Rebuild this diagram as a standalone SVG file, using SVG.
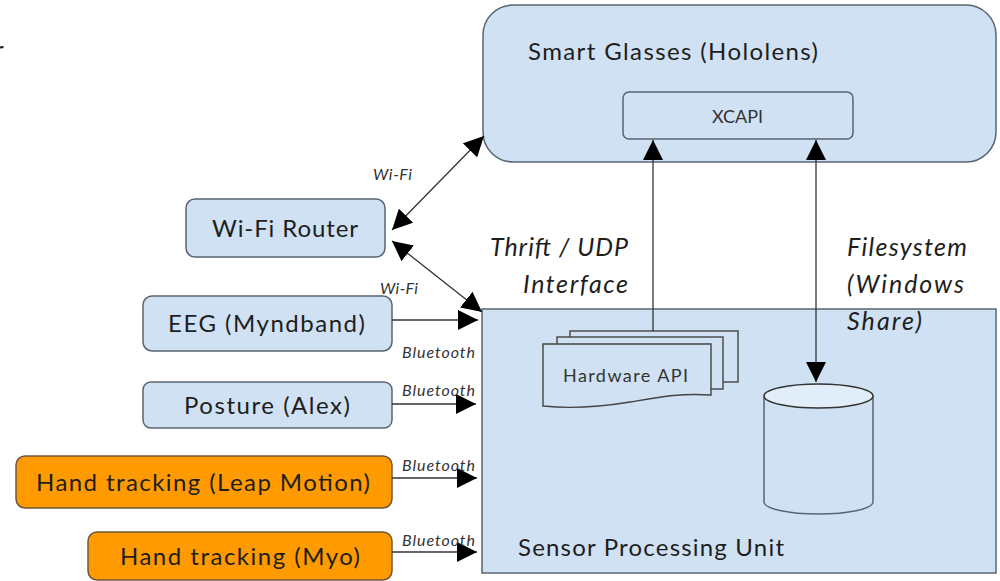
<svg xmlns="http://www.w3.org/2000/svg" width="1000" height="581" viewBox="0 0 1000 581">
<defs>
<style>
.blue{fill:#cfe1f2;stroke:#5a6470;stroke-width:1.5}
.orange{fill:#ff9a00;stroke:#6e5a3a;stroke-width:1.5}
.lbl{font-family:Lato,"Open Sans",sans-serif;font-size:24px;fill:#1e1e1e}
.sm{font-family:Lato,"Open Sans",sans-serif;font-size:18px;fill:#333}
.it{font-family:Lato,"Open Sans",sans-serif;font-style:italic;font-size:25px;fill:#1e1e1e}
.tiny{font-family:Lato,"Open Sans",sans-serif;font-style:italic;font-size:16px;fill:#333}
.con{stroke:#333;stroke-width:1.3;fill:none}
.page{fill:#cfe1f2;stroke:#444;stroke-width:1.4}
</style>
<marker id="ah" viewBox="0 0 10 10" refX="10" refY="5" markerWidth="20" markerHeight="20" markerUnits="userSpaceOnUse" orient="auto-start-reverse">
<path d="M0,0 L10,5 L0,10 z" fill="#000"/>
</marker>
</defs>
<rect width="1000" height="581" fill="#fff"/>
<text class="lbl" x="-5" y="58">r</text>

<g id="smart-glasses">
<rect class="blue" x="483" y="5" width="513" height="157" rx="30"/>
<text class="lbl" x="528" y="60" textLength="290">Smart Glasses (Hololens)</text>
</g>
<g id="xcapi">
<rect class="blue" x="623" y="92" width="230" height="47" rx="6"/>
<text class="sm" x="712" y="123" textLength="51">XCAPI</text>
</g>

<g id="sensor-processing-unit">
<rect class="blue" x="482" y="309" width="514" height="264"/>
<text class="lbl" x="518" y="556" textLength="266">Sensor Processing Unit</text>
</g>

<g id="hardware-api">
<rect class="page" x="570" y="331" width="168" height="51"/>
<rect class="page" x="557" y="337" width="166" height="52"/>
<path class="page" d="M543,344 H711 V395 C680,393 660,397 630,402 C600,407 570,409 543,406 Z"/>
<text class="sm" x="563" y="382" font-size="20" textLength="125">Hardware API</text>
</g>

<g id="storage">
<path class="blue" d="M764,396 V502 A54.5,12 0 0 0 873,502 V396" stroke="#333"/>
<ellipse cx="818.5" cy="396" rx="54.5" ry="12" fill="#e1edf8" stroke="#333" stroke-width="1.5"/>
</g>

<g id="wifi-router">
<rect class="blue" x="186" y="199" width="199" height="58" rx="9"/>
<text class="lbl" x="212" y="237" textLength="146">Wi-Fi Router</text>
</g>
<g id="eeg">
<rect class="blue" x="143" y="296" width="249" height="55" rx="9"/>
<text class="lbl" x="168" y="332" textLength="197">EEG (Myndband)</text>
</g>
<g id="posture">
<rect class="blue" x="143" y="382" width="249" height="46" rx="8"/>
<text class="lbl" x="184" y="414" textLength="166">Posture (Alex)</text>
</g>
<g id="leap-motion">
<rect class="orange" x="16" y="456" width="376" height="52" rx="9"/>
<text class="lbl" x="36" y="491" textLength="334">Hand tracking (Leap Motion)</text>
</g>
<g id="myo">
<rect class="orange" x="88" y="532" width="304" height="48" rx="9"/>
<text class="lbl" x="120" y="565" textLength="240">Hand tracking (Myo)</text>
</g>

<g id="connectors">
<line class="con" x1="392" y1="230" x2="484" y2="136" marker-start="url(#ah)" marker-end="url(#ah)"/>
<line class="con" x1="392" y1="241" x2="482" y2="312" marker-start="url(#ah)" marker-end="url(#ah)"/>
<line class="con" x1="653" y1="331" x2="653" y2="140" marker-end="url(#ah)"/>
<line class="con" x1="816" y1="140" x2="816" y2="382" marker-start="url(#ah)" marker-end="url(#ah)"/>
<line class="con" x1="392" y1="320" x2="478" y2="320" marker-end="url(#ah)"/>
<line class="con" x1="392" y1="404" x2="476" y2="404" marker-end="url(#ah)"/>
<line class="con" x1="392" y1="478" x2="477" y2="478" marker-end="url(#ah)"/>
<line class="con" x1="392" y1="552" x2="477" y2="552" marker-end="url(#ah)"/>
<text class="tiny" x="373" y="180" textLength="39">Wi-Fi</text>
<text class="tiny" x="380" y="294" textLength="38">Wi-Fi</text>
<text class="tiny" x="402" y="358" textLength="73">Bluetooth</text>
<text class="tiny" x="402" y="396" textLength="73">Bluetooth</text>
<text class="tiny" x="402" y="471" textLength="73">Bluetooth</text>
<text class="tiny" x="402" y="546" textLength="73">Bluetooth</text>
<text class="it" x="490" y="256" textLength="138">Thrift / UDP</text>
<text class="it" x="523" y="293" textLength="105">Interface</text>
<text class="it" x="847" y="256" textLength="120">Filesystem</text>
<text class="it" x="847" y="293" textLength="117">(Windows</text>
<text class="it" x="847" y="330" textLength="75">Share)</text>
</g>
</svg>
